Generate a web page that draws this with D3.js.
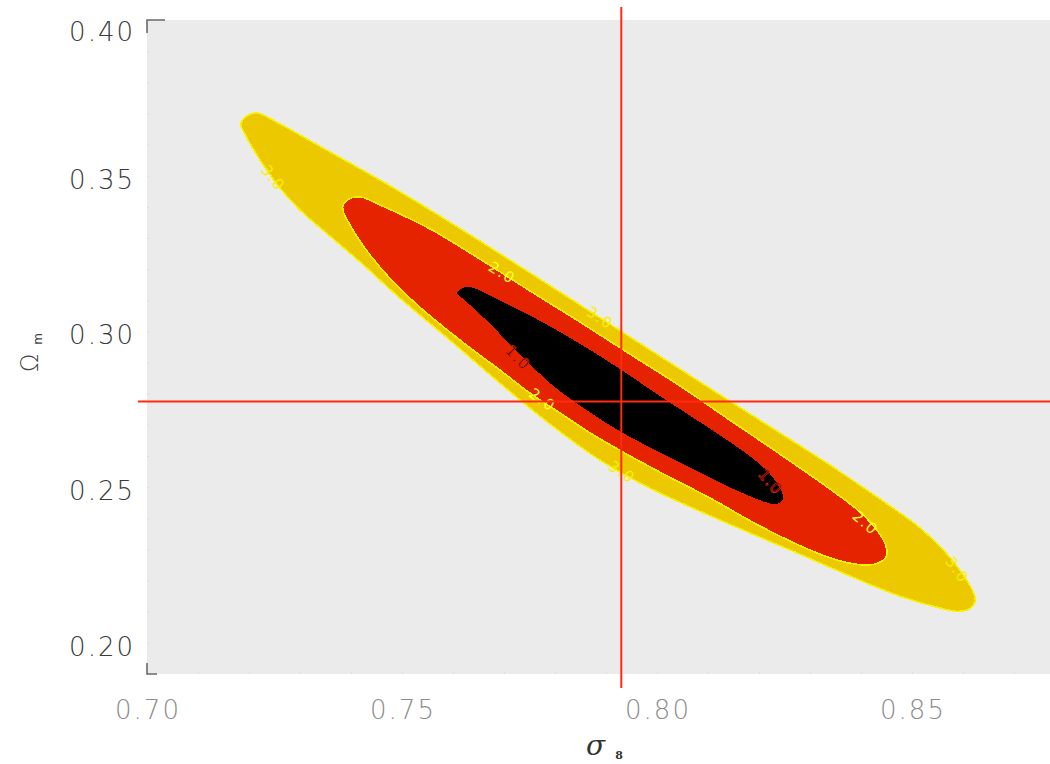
<!DOCTYPE html>
<html>
<head>
<meta charset="utf-8">
<script src="https://cdn.jsdelivr.net/npm/d3@7"></script>
<style>
  html, body { margin: 0; padding: 0; background: #fff; overflow: hidden; }
  svg { display: block; }
</style>
</head>
<body>
<svg id="chart" width="1050" height="764"></svg>
<script>
// Confidence levels (in sigma) of the filled likelihood contours
const levels = [1.0, 2.0, 3.0];

// Contour boundaries as [sigma_8, Omega_m] pairs, traced clockwise
const contour1 = [
  [0.7608,0.3123],[0.7618,0.3139],[0.7633,0.3143],[0.7686,0.3104],[0.7751,0.3051],
  [0.7810,0.2998],[0.7882,0.2927],[0.7933,0.2873],[0.8012,0.2786],[0.8084,0.2709],
  [0.8143,0.2645],[0.8192,0.2587],[0.8225,0.2536],[0.8243,0.2491],[0.8247,0.2462],
  [0.8235,0.2446],[0.8212,0.2452],[0.8182,0.2471],[0.8133,0.2507],[0.8084,0.2548],
  [0.8012,0.2606],[0.7933,0.2674],[0.7888,0.2719],[0.7839,0.2773],[0.7790,0.2834],
  [0.7741,0.2911],[0.7692,0.2992],[0.7649,0.3062],[0.7620,0.3104]
];
const contour2 = [
  [0.7384,0.3403],[0.7396,0.3425],[0.7418,0.3432],[0.7457,0.3406],[0.7555,0.3329],
  [0.7653,0.3232],[0.7751,0.3130],[0.7849,0.3030],[0.7947,0.2927],[0.8045,0.2825],
  [0.8143,0.2715],[0.8241,0.2606],[0.8339,0.2494],[0.8398,0.2420],[0.8431,0.2362],
  [0.8449,0.2311],[0.8449,0.2276],[0.8433,0.2256],[0.8408,0.2250],[0.8359,0.2263],
  [0.8300,0.2298],[0.8202,0.2375],[0.8104,0.2465],[0.8006,0.2548],[0.7933,0.2613],
  [0.7869,0.2674],[0.7810,0.2738],[0.7751,0.2802],[0.7692,0.2876],[0.7614,0.2972],
  [0.7535,0.3078],[0.7476,0.3171],[0.7427,0.3268],[0.7398,0.3342],[0.7386,0.3380]
];
const contour3 = [
  [0.7184,0.3666],[0.7196,0.3692],[0.7216,0.3701],[0.7261,0.3666],[0.7359,0.3576],
  [0.7457,0.3486],[0.7555,0.3390],[0.7653,0.3290],[0.7751,0.3188],[0.7849,0.3085],
  [0.7947,0.2982],[0.8045,0.2879],[0.8143,0.2776],[0.8241,0.2674],[0.8339,0.2571],
  [0.8437,0.2462],[0.8516,0.2369],[0.8565,0.2292],[0.8598,0.2224],[0.8618,0.2170],
  [0.8624,0.2134],[0.8612,0.2109],[0.8590,0.2101],[0.8555,0.2112],[0.8476,0.2150],
  [0.8378,0.2215],[0.8280,0.2285],[0.8182,0.2353],[0.8084,0.2423],[0.7986,0.2497],
  [0.7888,0.2587],[0.7790,0.2703],[0.7692,0.2834],[0.7594,0.2972],[0.7496,0.3107],
  [0.7418,0.3223],[0.7359,0.3306],[0.7300,0.3390],[0.7261,0.3460],[0.7222,0.3550],
  [0.7192,0.3634]
];

// In-line contour labels: [level, sigma_8, Omega_m]
const contourLabels = [
  [3, 0.7247, 0.3493],
  [2, 0.7696, 0.3188],
  [3, 0.7888, 0.3043],
  [1, 0.7727, 0.2915],
  [2, 0.7775, 0.2780],
  [3, 0.7931, 0.2548],
  [1, 0.8222, 0.2516],
  [2, 0.8408, 0.2385],
  [3, 0.8588, 0.2234]
];

// Fiducial cosmology marked by the cross-hair
const fiducialSigma8 = 0.793;
const fiducialOmegaM = 0.2775;

// Axis ticks
const xTicks = [0.70, 0.75, 0.80, 0.85];
const yTicks = [0.20, 0.25, 0.30, 0.35, 0.40];
const xMinorTicks = d3.range(70, 89).map(d => d / 100);
const yMinorTicks = d3.range(19, 41).map(d => d / 100);

// ---------------------------------------------------------------
const svg = d3.select("#chart");

const x = d3.scaleLinear().domain([0.70, 0.88]).range([147, 1065]);
const y = d3.scaleLinear().domain([0.19, 0.40]).range([674, 20]);

const fillColor = { 1: "#000000", 2: "#e62300", 3: "#ebc800" };
const edgeColor = { 1: "none", 2: "#f7f200", 3: "#f7f200" };
const labelColor = { 1: "#000000", 2: "#ffff30", 3: "#f6f000" };
const rings = { 1: contour1, 2: contour2, 3: contour3 };

// plot background
svg.append("rect")
  .attr("x", x(0.70)).attr("y", y(0.40))
  .attr("width", x(0.88) - x(0.70))
  .attr("height", y(0.19) - y(0.40))
  .attr("fill", "#ebebeb");

// faint minor ticks on the inner edges
svg.append("g")
  .attr("transform", `translate(0,${y(0.19)})`)
  .call(d3.axisBottom(x).tickValues(xMinorTicks).tickSize(-2).tickFormat(""))
  .call(g => g.select(".domain").remove())
  .call(g => g.selectAll("line").attr("stroke", "#dcdcdc"));
svg.append("g")
  .attr("transform", `translate(${x(0.70)},0)`)
  .call(d3.axisLeft(y).tickValues(yMinorTicks).tickSize(-2).tickFormat(""))
  .call(g => g.select(".domain").remove())
  .call(g => g.selectAll("line").attr("stroke", "#dcdcdc"));

// filled contours, widest first
const line = d3.line()
  .x(d => x(d[0])).y(d => y(d[1]))
  .curve(d3.curveCatmullRomClosed.alpha(0.5));

const levelsDesc = levels.slice().sort((a, b) => b - a);
svg.append("g").selectAll("path")
  .data(levelsDesc)
  .join("path")
  .attr("d", l => line(rings[l]))
  .attr("fill", l => fillColor[l])
  .attr("stroke", l => edgeColor[l])
  .attr("stroke-width", 1.6)
  .attr("shape-rendering", "crispEdges");

// contour labels, oriented along the local direction of their contour
function localAngle(level, px, py) {
  const pts = rings[level].map(d => [x(d[0]), y(d[1])]);
  let best = 0, bd = Infinity;
  pts.forEach((p, i) => {
    const dd = (p[0] - px) ** 2 + (p[1] - py) ** 2;
    if (dd < bd) { bd = dd; best = i; }
  });
  const n = pts.length;
  const a = pts[(best - 1 + n) % n], b = pts[(best + 1) % n];
  let ang = Math.atan2(b[1] - a[1], b[0] - a[0]) * 180 / Math.PI;
  if (ang > 90) ang -= 180;
  if (ang < -90) ang += 180;
  return ang;
}

svg.append("g").selectAll("text")
  .data(contourLabels)
  .join("text")
  .attr("transform", d => {
    const px = x(d[1]), py = y(d[2]);
    return `translate(${px},${py}) rotate(${localAngle(d[0], px, py)})`;
  })
  .attr("text-anchor", "middle")
  .attr("dominant-baseline", "central")
  .attr("font-family", "DejaVu Sans, sans-serif")
  .attr("font-size", 15)
  .attr("letter-spacing", 1.5)
  .attr("fill", d => labelColor[d[0]])
  .attr("stroke", d => d[0] === 1 ? "#e62300" : "none")
  .attr("stroke-width", 0.7)
  .text(d => d3.format(".1f")(d[0]));

// fiducial cross-hair
svg.append("line")
  .attr("x1", x(fiducialSigma8)).attr("x2", x(fiducialSigma8))
  .attr("y1", 7).attr("y2", 688)
  .attr("stroke", "#ff2a10").attr("stroke-width", 2);
svg.append("line")
  .attr("x1", 138).attr("x2", 1050)
  .attr("y1", y(fiducialOmegaM)).attr("y2", y(fiducialOmegaM))
  .attr("stroke", "#ff2a10").attr("stroke-width", 2);

// axis corner marks
const x0 = x(0.70), yTop = y(0.40), yBot = y(0.19);
svg.append("path")
  .attr("d", `M${x0 + 18},${yTop}H${x0}V${yTop + 13}`)
  .attr("fill", "none").attr("stroke", "#6a6a6a").attr("stroke-width", 1.6);
svg.append("path")
  .attr("d", `M${x0},${yBot - 11}V${yBot}H${x0 + 10}`)
  .attr("fill", "none").attr("stroke", "#6a6a6a").attr("stroke-width", 1.6);

// tick labels
const tickFont = "DejaVu Sans, sans-serif";
svg.append("g").selectAll("text")
  .data(yTicks)
  .join("text")
  .attr("x", 135)
  .attr("y", d => y(d) + (d === 0.40 ? 21 : 13))
  .attr("text-anchor", "end")
  .attr("font-family", tickFont)
  .attr("font-weight", 200)
  .attr("font-size", 26)
  .attr("letter-spacing", 2)
  .attr("fill", "#3a3a3a")
  .text(d => d3.format(".2f")(d));

svg.append("g").selectAll("text")
  .data(xTicks)
  .join("text")
  .attr("x", d => x(d) + 1)
  .attr("y", 719)
  .attr("text-anchor", "middle")
  .attr("font-family", tickFont)
  .attr("font-weight", 200)
  .attr("font-size", 26)
  .attr("letter-spacing", 2)
  .attr("fill", "#8c8c8c")
  .text(d => d3.format(".2f")(d));

// axis titles
const xt = svg.append("text")
  .attr("x", 586).attr("y", 755)
  .attr("font-family", "DejaVu Serif, serif")
  .attr("fill", "#333");
xt.append("tspan").attr("font-style", "italic").attr("font-size", 28).text("σ");
xt.append("tspan").attr("font-size", 11).attr("font-weight", "bold")
  .attr("dx", 10).attr("dy", 4).text("8");

const yt = svg.append("text")
  .attr("transform", "translate(38,372) rotate(-90)")
  .attr("font-family", "DejaVu Sans, sans-serif")
  .attr("fill", "#444");
yt.append("tspan").attr("font-size", 24).attr("font-weight", 200).text("Ω");
yt.append("tspan").attr("font-size", 12).attr("dx", 9).attr("dy", 4).text("m");
</script>
</body>
</html>
